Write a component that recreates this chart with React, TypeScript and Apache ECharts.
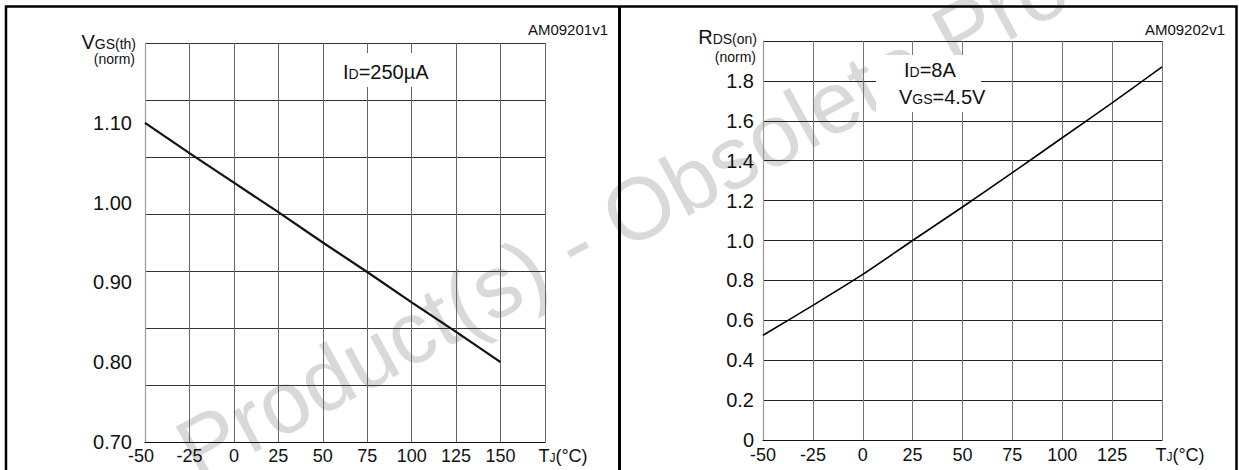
import React, { useEffect, useRef } from 'react';
import * as echarts from 'echarts';

const FONT = 'Liberation Sans, Arial, Helvetica, sans-serif';

// ---- Left chart: normalized gate threshold voltage vs temperature (ID = 250 µA)
const vgsTemps = [-50, -25, 0, 25, 50, 75, 100, 125, 150];
const vgsNorm = [1.1, 1.062, 1.025, 0.988, 0.95, 0.913, 0.875, 0.838, 0.8];
const vgsXTickValues = [-50, -25, 0, 25, 50, 75, 100, 125, 150];
const vgsXTickLabels = ['-50', '-25', '0', '25', '50', '75', '100', '125', '150'];
const vgsYTickValues = [0.7, 0.8, 0.9, 1.0, 1.1];
const vgsYTickLabels = ['0.70', '0.80', '0.90', '1.00', '1.10'];

// ---- Right chart: normalized on-resistance vs temperature (ID = 8 A, VGS = 4.5 V)
const rdsTemps = [-50, -25, 0, 25, 50, 75, 100, 125, 150];
const rdsNorm = [0.525, 0.675, 0.83, 1.0, 1.168, 1.34, 1.515, 1.69, 1.87];
const rdsXTickValues = [-50, -25, 0, 25, 50, 75, 100, 125];
const rdsXTickLabels = ['-50', '-25', '0', '25', '50', '75', '100', '125'];
const rdsYTickValues = [0, 0.2, 0.4, 0.6, 0.8, 1.0, 1.2, 1.4, 1.6, 1.8];
const rdsYTickLabels = ['0', '0.2', '0.4', '0.6', '0.8', '1.0', '1.2', '1.4', '1.6', '1.8'];

const TJ_LABEL = '{tl|T}{sub|J}{big|(°C)}';

const lookup = (values: number[], labels: string[]) => (v: number) => {
  const i = values.findIndex((t) => Math.abs(t - v) < 1e-6);
  return i >= 0 ? labels[i] : '';
};

const xRich = {
  tl: { fontSize: 18, fontFamily: FONT, color: '#111', padding: [0, 0, 0, 36], verticalAlign: 'bottom' },
  big: { fontSize: 18, fontFamily: FONT, color: '#111', verticalAlign: 'bottom' },
  sub: { fontSize: 12, fontFamily: FONT, color: '#111', verticalAlign: 'bottom', padding: [0, 0, 1, 0] },
  neg: { fontSize: 18, fontFamily: FONT, color: '#111', padding: [0, 8, 0, 0] },
};

export default function App() {
  const ref = useRef<HTMLDivElement>(null);

  useEffect(() => {
    if (!ref.current) return;
    const chart = echarts.init(ref.current, null, { renderer: 'svg' });

    const leftX = (v: number) => {
      if (v === 175) return TJ_LABEL;
      const s = lookup(vgsXTickValues, vgsXTickLabels)(v);
      return v === -50 ? '{neg|' + s + '}' : s;
    };
    const rightX = (v: number) => {
      if (v === 150) return TJ_LABEL;
      return lookup(rdsXTickValues, rdsXTickLabels)(v);
    };

    const titleText = (x: number, y: number, main: string, sub: string) => ({
      type: 'text',
      x,
      y,
      z: 20,
      style: {
        text: '{a|' + main + '}{b|' + sub + '}',
        align: 'right',
        verticalAlign: 'middle',
        rich: {
          a: { fontSize: 20, fontFamily: FONT, fill: '#111', verticalAlign: 'bottom' },
          b: { fontSize: 14, fontFamily: FONT, fill: '#111', verticalAlign: 'bottom', padding: [0, 0, 1, 0] },
        },
      },
    });

    const legendText = (x: number, y: number, main: string, sub: string, rest: string) => ({
      type: 'text',
      x,
      y,
      z: 20,
      style: {
        text: '{a|' + main + '}{b|' + sub + '}{a|' + rest + '}',
        align: 'left',
        verticalAlign: 'middle',
        rich: {
          a: { fontSize: 20, fontFamily: FONT, fill: '#111', verticalAlign: 'bottom' },
          b: { fontSize: 14, fontFamily: FONT, fill: '#111', verticalAlign: 'bottom', padding: [0, 0, 1, 0] },
        },
      },
    });

    const smallText = (x: number, y: number, text: string, size: number) => ({
      type: 'text',
      x,
      y,
      z: 20,
      style: { text, fontSize: size, fontFamily: FONT, fill: '#111', align: 'right', verticalAlign: 'middle' },
    });

    const option: any = {
      animation: false,
      backgroundColor: '#ffffff',
      textStyle: { fontFamily: FONT },
      grid: [
        { left: 145, top: 43, width: 400, height: 399, containLabel: false },
        { left: 763, top: 41, width: 399, height: 399, containLabel: false },
      ],
      xAxis: [
        {
          type: 'value',
          gridIndex: 0,
          min: -50,
          max: 175,
          interval: 25,
          axisLine: { show: true, onZero: false, lineStyle: { color: '#111', width: 1.2 } },
          axisTick: { show: false },
          splitLine: { show: true, lineStyle: { color: '#666', width: 1 } },
          axisLabel: { fontSize: 18, color: '#111', fontFamily: FONT, margin: 5, showMinLabel: true, showMaxLabel: true, formatter: leftX, rich: xRich },
        },
        {
          type: 'value',
          gridIndex: 1,
          min: -50,
          max: 150,
          interval: 25,
          axisLine: { show: true, onZero: false, lineStyle: { color: '#111', width: 1.2 } },
          axisTick: { show: false },
          splitLine: { show: true, lineStyle: { color: '#777', width: 1 } },
          axisLabel: { fontSize: 18, color: '#111', fontFamily: FONT, margin: 6, showMinLabel: true, showMaxLabel: true, formatter: rightX, rich: xRich },
        },
      ],
      yAxis: [
        {
          type: 'value',
          gridIndex: 0,
          min: 0.7,
          max: 1.2,
          interval: 0.1,
          axisLine: { show: true, onZero: false, lineStyle: { color: '#999', width: 1.2 } },
          axisTick: { show: false },
          splitLine: { show: false },
          axisLabel: { fontSize: 20, color: '#111', fontFamily: FONT, margin: 13, formatter: lookup(vgsYTickValues, vgsYTickLabels) },
        },
        {
          type: 'value',
          gridIndex: 0,
          min: 0,
          max: 7,
          interval: 1,
          axisLine: { show: false },
          axisTick: { show: false },
          axisLabel: { show: false },
          splitLine: { show: true, lineStyle: { color: '#333', width: 1 } },
        },
        {
          type: 'value',
          gridIndex: 1,
          min: 0,
          max: 2,
          interval: 0.2,
          axisLine: { show: true, onZero: false, lineStyle: { color: '#999', width: 1.2 } },
          axisTick: { show: false },
          splitLine: { show: true, lineStyle: { color: '#222', width: 1 } },
          axisLabel: { fontSize: 20, color: '#111', fontFamily: FONT, margin: 9, formatter: lookup(rdsYTickValues, rdsYTickLabels) },
        },
      ],
      series: [
        {
          type: 'line',
          xAxisIndex: 0,
          yAxisIndex: 0,
          data: vgsTemps.map((t, i) => [t, vgsNorm[i]]),
          symbol: 'none',
          lineStyle: { color: '#111', width: 2.2 },
          z: 3,
        },
        {
          type: 'line',
          xAxisIndex: 1,
          yAxisIndex: 2,
          data: rdsTemps.map((t, i) => [t, rdsNorm[i]]),
          symbol: 'none',
          smooth: 0.3,
          lineStyle: { color: '#000', width: 1.6 },
          z: 3,
        },
      ],
      graphic: [
        {
          type: 'text',
          x: 205,
          y: 495,
          rotation: 0.5,
          z: -10,
          silent: true,
          style: {
            text: 'Product(s) - Obsolete Product(s)',
            fontSize: 88,
            fontFamily: FONT,
            fill: '#d9d9d9',
            align: 'left',
            verticalAlign: 'bottom',
          },
        },
        {
          type: 'rect',
          z: 30,
          shape: { x: 6, y: 6.5, width: 1230.5, height: 500 },
          style: { fill: 'none', stroke: '#000', lineWidth: 2.5 },
        },
        {
          type: 'line',
          z: 30,
          shape: { x1: 619.5, y1: 6.5, x2: 619.5, y2: 480 },
          style: { stroke: '#000', lineWidth: 3 },
        },
        // white boxes behind the condition labels
        { type: 'rect', z: 10, shape: { x: 336, y: 53, width: 108, height: 34 }, style: { fill: '#fff' } },
        { type: 'rect', z: 10, shape: { x: 876, y: 55, width: 105, height: 57 }, style: { fill: '#fff' } },
        legendText(343, 72, 'I', 'D', '=250µA'),
        legendText(904, 70, 'I', 'D', '=8A'),
        legendText(899, 97, 'V', 'GS', '=4.5V'),
        titleText(136, 42, 'V', 'GS(th)'),
        smallText(135, 59, '(norm)', 14),
        titleText(757, 37, 'R', 'DS(on)'),
        smallText(756, 57, '(norm)', 14),
        smallText(608, 29, 'AM09201v1', 15),
        smallText(1225, 29, 'AM09202v1', 15),
      ],
    };

    chart.setOption(option);
    return () => chart.dispose();
  }, []);

  return (
    <div
      ref={ref}
      style={{ position: 'fixed', left: 0, top: 0, width: 1239, height: 470, background: '#fff' }}
    />
  );
}
